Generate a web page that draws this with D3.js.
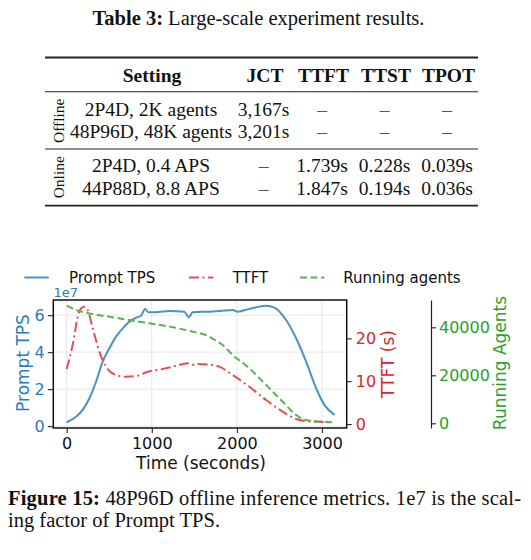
<!DOCTYPE html>
<html>
<head>
<meta charset="utf-8">
<script src="https://cdn.jsdelivr.net/npm/d3@7"></script>
<style>
  body { margin: 0; background: #fff; }
  svg { display: block; }
  .serif { font-family: "Liberation Serif", "Times New Roman", serif; fill: #111; }
  .sans { font-family: "DejaVu Sans", sans-serif; }
</style>
</head>
<body>
<div id="page"></div>
<script>
// ---- table data ----
var tableHeaders = ["Setting", "JCT", "TTFT", "TTST", "TPOT"];
var tableGroups = ["Offline", "Offline", "Online", "Online"];
var tableRows = [
  ["2P4D, 2K agents", "3,167s", "–", "–", "–"],
  ["48P96D, 48K agents", "3,201s", "–", "–", "–"],
  ["2P4D, 0.4 APS", "–", "1.739s", "0.228s", "0.039s"],
  ["44P88D, 8.8 APS", "–", "1.847s", "0.194s", "0.036s"]
];

// ---- chart data ----
var tpsTime = [0, 110, 188, 267, 345, 423, 502, 580, 658, 737, 815, 874, 921, 960, 1050, 1207, 1383, 1434, 1481, 1677, 1800, 1951, 2010, 2147, 2343, 2441, 2578, 2696, 2813, 2931, 3028, 3146];
var tpsValues = [0.21, 0.51, 0.88, 1.51, 2.4, 3.49, 4.21, 4.84, 5.29, 5.65, 5.86, 5.97, 6.34, 6.16, 6.16, 6.23, 6.19, 5.89, 6.16, 6.19, 6.22, 6.28, 6.19, 6.34, 6.51, 6.41, 5.74, 4.75, 3.49, 2.05, 1.15, 0.61];

var ttftTime = [0, 71, 141, 169, 208, 247, 306, 384, 463, 561, 698, 815, 952, 1128, 1285, 1422, 1462, 1540, 1677, 1794, 1951, 2147, 2343, 2538, 2696, 2813, 3126];
var ttftValues = [12.85, 18.5, 25.9, 27.0, 27.4, 26.6, 22.4, 16.9, 13.4, 11.6, 11.05, 11.2, 12.2, 12.85, 13.6, 14.2, 13.8, 14.0, 13.9, 13.4, 11.45, 8.7, 5.6, 2.9, 1.17, 0.7, 0.4];

var agentTime = [0, 110, 267, 502, 737, 972, 1207, 1442, 1677, 1755, 1833, 1951, 2147, 2343, 2538, 2696, 2813, 3008, 3146];
var agentValues = [49000, 47200, 45800, 44400, 43000, 41700, 40300, 38500, 36100, 34400, 32600, 28500, 22900, 16000, 9000, 3460, 1375, 670, 420];

var xTicks = [0, 1000, 2000, 3000];
var tpsTicks = [0, 2, 4, 6];
var ttftTicks = [0, 10, 20];
var agentTicks = [0, 20000, 40000];

var legendNames = ["Prompt TPS", "TTFT", "Running agents"];

var blue = "#4c92c3", red = "#de5253", green = "#56b356";
var blueText = "#2b7bba", redText = "#d62728", greenText = "#2ca02c";

var svg = d3.select("#page").append("svg")
  .attr("width", 531).attr("height", 560);

svg.append("rect").attr("width", 531).attr("height", 560).attr("fill", "#fff");

// ---- table title ----
var title = svg.append("text").attr("class", "serif")
  .attr("x", 258.5).attr("y", 25)
  .attr("text-anchor", "middle")
  .style("font-size", "20.5px");
title.append("tspan").style("font-weight", "bold").text("Table 3:");
title.append("tspan").text(" Large-scale experiment results.");

// ---- table ----
var colX = [151, 263.5, 322, 384.5, 447];
var rowY = [115.5, 138, 172, 194.5];

var rules = [
  {y: 57.5, w: 1.8},
  {y: 91.7, w: 1.1},
  {y: 149, w: 1.1},
  {y: 205.7, w: 1.8}
];
svg.selectAll(".rule")
  .data(rules)
  .enter()
  .append("line")
  .attr("x1", 45).attr("x2", 478)
  .attr("y1", function(d) { return d.y; })
  .attr("y2", function(d) { return d.y; })
  .attr("stroke", "#222")
  .attr("stroke-width", function(d) { return d.w; });

svg.selectAll(".head")
  .data(tableHeaders)
  .enter()
  .append("text")
  .attr("class", "serif")
  .attr("x", function(d, i) { return colX[i] + (i == 0 ? 1 : 1.5); })
  .attr("y", 81.5)
  .attr("text-anchor", "middle")
  .style("font-size", "19.5px")
  .style("font-weight", "bold")
  .text(function(d) { return d; });

tableRows.forEach(function(row, r) {
  svg.selectAll(".cell" + r)
    .data(row)
    .enter()
    .append("text")
    .attr("class", "serif")
    .attr("x", function(d, i) { return colX[i]; })
    .attr("y", rowY[r])
    .attr("text-anchor", "middle")
    .style("font-size", "19.5px")
    .style("fill", function(d) { return d == "–" ? "#555" : "#111"; })
    .text(function(d) { return d; });
});

// group labels (rotated)
var groupNames = ["Offline", "Online"];
groupNames.forEach(function(g) {
  var idx = tableGroups.map(function(d, i) { return d == g ? i : -1; }).filter(function(i) { return i >= 0; });
  var cy = (rowY[idx[0]] + rowY[idx[idx.length - 1]]) / 2 - 6;
  svg.append("text")
    .attr("class", "serif")
    .attr("transform", "translate(63.5," + cy + ") rotate(-90)")
    .attr("text-anchor", "middle")
    .style("font-size", "15.5px")
    .text(g);
});

// ---- chart ----
var x = d3.scaleLinear().domain([-157, 3290]).range([53.3, 346.7]);
var yTps = d3.scaleLinear().domain([-0.1, 6.82]).range([428, 300]);
var yTtft = d3.scaleLinear().domain([-0.93, 28.97]).range([428, 300]);
var yAg = d3.scaleLinear().domain([-1958, 51375]).range([428, 300]);

var chart = svg.append("g").attr("class", "sans");

// grid
chart.append("g").selectAll("line")
  .data(xTicks)
  .enter()
  .append("line")
  .attr("x1", function(d) { return x(d); })
  .attr("x2", function(d) { return x(d); })
  .attr("y1", 300).attr("y2", 428)
  .attr("stroke", "#e4e4e4").attr("stroke-width", 0.9);
chart.append("g").selectAll("line")
  .data(tpsTicks)
  .enter()
  .append("line")
  .attr("y1", function(d) { return yTps(d); })
  .attr("y2", function(d) { return yTps(d); })
  .attr("x1", 53.3).attr("x2", 346.7)
  .attr("stroke", "#e4e4e4").attr("stroke-width", 0.9);

function series(t, v) { return t.map(function(d, i) { return [d, v[i]]; }); }

var lineTps = d3.line().x(function(d) { return x(d[0]); }).y(function(d) { return yTps(d[1]); }).curve(d3.curveMonotoneX);
var lineTtft = d3.line().x(function(d) { return x(d[0]); }).y(function(d) { return yTtft(d[1]); }).curve(d3.curveMonotoneX);
var lineAg = d3.line().x(function(d) { return x(d[0]); }).y(function(d) { return yAg(d[1]); }).curve(d3.curveMonotoneX);

chart.append("path")
  .attr("d", lineTps(series(tpsTime, tpsValues)))
  .attr("fill", "none").attr("stroke", blue).attr("stroke-width", 2);
chart.append("path")
  .attr("d", lineTtft(series(ttftTime, ttftValues)))
  .attr("fill", "none").attr("stroke", red).attr("stroke-width", 2)
  .attr("stroke-dasharray", "10,3.5,2,3.5");
chart.append("path")
  .attr("d", lineAg(series(agentTime, agentValues)))
  .attr("fill", "none").attr("stroke", green).attr("stroke-width", 2)
  .attr("stroke-dasharray", "7,3.5");

// frame
chart.append("rect")
  .attr("x", 53.3).attr("y", 300)
  .attr("width", 346.7 - 53.3).attr("height", 128)
  .attr("fill", "none").attr("stroke", "#111").attr("stroke-width", 1.5);

function styleAxis(g, color) {
  g.select(".domain").remove();
  g.selectAll(".tick line").attr("stroke", "#222").attr("stroke-width", 1.1);
  g.selectAll(".tick text").style("font-size", "16px").style("font-family", "DejaVu Sans").attr("fill", color);
}

chart.append("g")
  .attr("transform", "translate(0,428)")
  .call(d3.axisBottom(x).tickValues(xTicks).tickSize(5).tickPadding(5).tickFormat(d3.format("d")))
  .call(styleAxis, "#111");

chart.append("g")
  .attr("transform", "translate(53.3,0)")
  .call(d3.axisLeft(yTps).tickValues(tpsTicks).tickSize(5.5).tickPadding(3).tickFormat(d3.format("d")))
  .call(styleAxis, blueText);

chart.append("g")
  .attr("transform", "translate(346.7,0)")
  .call(d3.axisRight(yTtft).tickValues(ttftTicks).tickSize(5).tickPadding(4).tickFormat(d3.format("d")))
  .call(styleAxis, redText);

var agAxis = chart.append("g")
  .attr("transform", "translate(431,0)")
  .call(d3.axisRight(yAg).tickValues(agentTicks).tickSize(5).tickSizeOuter(0).tickPadding(3).tickFormat(d3.format("d")));
agAxis.selectAll(".tick line").attr("stroke", "#222").attr("stroke-width", 1.1);
agAxis.selectAll(".tick text").style("font-size", "16px").style("font-family", "DejaVu Sans").attr("fill", greenText);
agAxis.select(".domain").attr("stroke", "#222").attr("stroke-width", 1.2);

// offset text
chart.append("text")
  .attr("x", 53.5).attr("y", 297)
  .style("font-size", "13px").attr("fill", blueText)
  .text("1e7");

// axis labels
chart.append("text")
  .attr("x", 201).attr("y", 469)
  .attr("text-anchor", "middle")
  .style("font-size", "17px").attr("fill", "#111")
  .text("Time (seconds)");
chart.append("text")
  .attr("transform", "translate(28.5,363) rotate(-90)")
  .attr("text-anchor", "middle")
  .style("font-size", "17px").attr("fill", blueText)
  .text("Prompt TPS");
chart.append("text")
  .attr("transform", "translate(393.5,364) rotate(-90)")
  .attr("text-anchor", "middle")
  .style("font-size", "17px").attr("fill", redText)
  .text("TTFT (s)");
chart.append("text")
  .attr("transform", "translate(506,363) rotate(-90)")
  .attr("text-anchor", "middle")
  .style("font-size", "17px").attr("fill", greenText)
  .text("Running Agents");

// legend
var legendLineX = [24.3, 189, 300];
var legendTextX = [69, 232.7, 343.3];
var legendColors = [blue, red, green];
var legendDash = [null, "10,3.5,2,3.5", "7,3.5"];
var legend = chart.append("g");
legend.selectAll("line")
  .data(legendNames)
  .enter()
  .append("line")
  .attr("x1", function(d, i) { return legendLineX[i]; })
  .attr("x2", function(d, i) { return legendLineX[i] + 24.5; })
  .attr("y1", 277.5).attr("y2", 277.5)
  .attr("stroke", function(d, i) { return legendColors[i]; })
  .attr("stroke-width", 2)
  .attr("stroke-dasharray", function(d, i) { return legendDash[i]; });
legend.selectAll("text")
  .data(legendNames)
  .enter()
  .append("text")
  .attr("x", function(d, i) { return legendTextX[i]; })
  .attr("y", 283)
  .style("font-size", "15px").attr("fill", "#111")
  .text(function(d) { return d; });

// ---- caption ----
var cap1 = svg.append("text").attr("class", "serif")
  .attr("x", 8).attr("y", 505)
  .attr("textLength", 513).attr("lengthAdjust", "spacing")
  .style("font-size", "20.5px");
cap1.append("tspan").style("font-weight", "bold").text("Figure 15:");
cap1.append("tspan").text(" 48P96D offline inference metrics. 1e7 is the scal-");
svg.append("text").attr("class", "serif")
  .attr("x", 8).attr("y", 527)
  .style("font-size", "20.5px")
  .text("ing factor of Prompt TPS.");
</script>
</body>
</html>
